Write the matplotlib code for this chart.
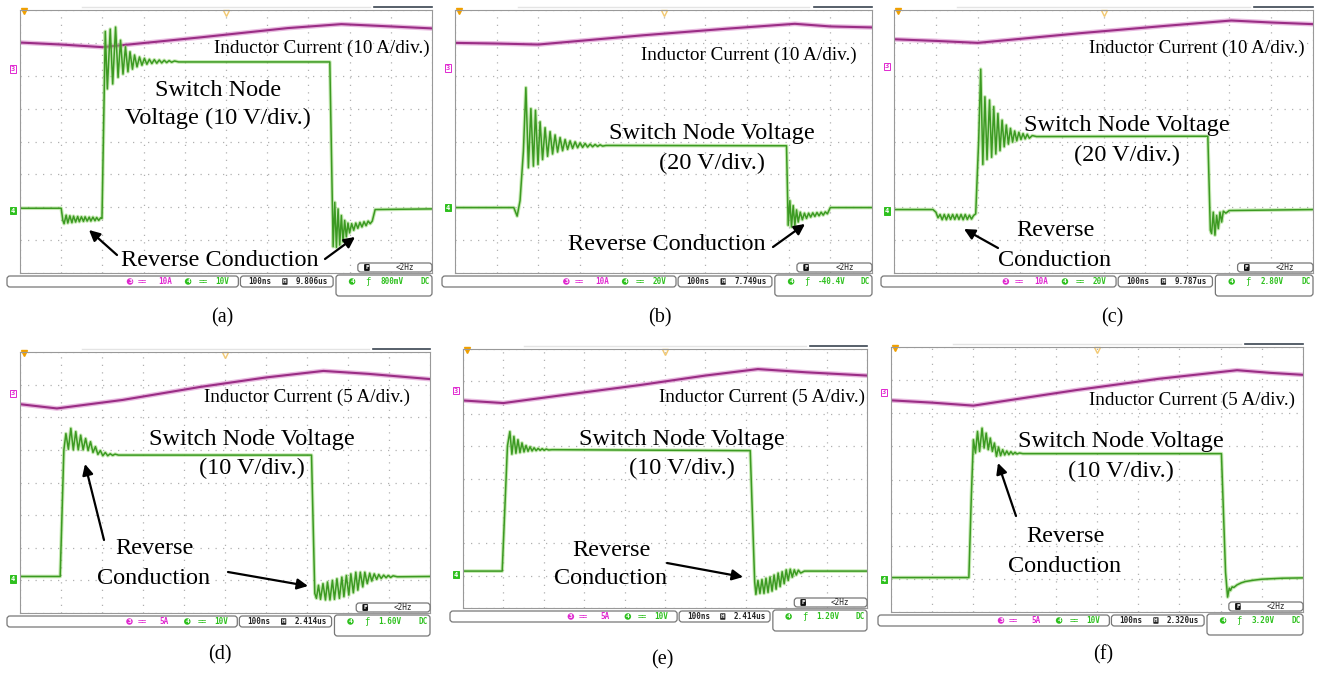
import matplotlib.pyplot as plt
from matplotlib.patches import FancyBboxPatch

# valores lidos das telas do osciloscopio (em divisoes: x 0-10, y 0-8)
# corrente no indutor (canal 3)
a_cur = [(0, 7.01), (1.0, 6.95), (2.0, 6.87), (4.4, 7.17), (6.5, 7.45), (7.8, 7.57), (9.0, 7.50), (10, 7.44)]
b_cur = [(0, 7.00), (1.0, 6.98), (2.0, 6.95), (4.5, 7.23), (6.5, 7.43), (8.15, 7.58), (9.0, 7.50), (10, 7.47)]
c_cur = [(0, 7.11), (1.0, 7.06), (2.0, 7.00), (4.4, 7.29), (6.5, 7.52), (8.05, 7.68), (9.0, 7.62), (10, 7.57)]
d_cur = [(0, 6.40), (0.9, 6.27), (2.5, 6.53), (4.4, 6.93), (6.0, 7.22), (7.4, 7.42), (8.5, 7.33), (10, 7.17)]
e_cur = [(0, 6.41), (1.0, 6.33), (2.5, 6.58), (4.4, 6.89), (6.0, 7.18), (7.3, 7.38), (8.5, 7.28), (10, 7.18)]
f_cur = [(0, 6.39), (1.0, 6.32), (2.0, 6.23), (4.5, 6.70), (6.5, 7.04), (8.4, 7.30), (9.2, 7.22), (10, 7.16)]

# tensao no no de chaveamento (canal 4)
a_sw = [(0, 1.97), (1.00, 1.97), (1.04, 1.60),
        (1.07, 1.50), (1.12, 1.76), (1.16, 1.52), (1.21, 1.74), (1.26, 1.53), (1.30, 1.73),
        (1.35, 1.55), (1.40, 1.72), (1.44, 1.56), (1.49, 1.71), (1.54, 1.57), (1.58, 1.71),
        (1.63, 1.58), (1.68, 1.70), (1.72, 1.58), (1.77, 1.70), (1.82, 1.59), (1.86, 1.69),
        (1.91, 1.60), (1.96, 1.68), (1.99, 1.66),
        (2.07, 7.35), (2.12, 5.60), (2.19, 7.42), (2.25, 5.75), (2.32, 7.48), (2.38, 5.95),
        (2.44, 7.08), (2.50, 6.05), (2.56, 6.88), (2.62, 6.12), (2.67, 6.73), (2.73, 6.20),
        (2.78, 6.63), (2.84, 6.27), (2.90, 6.57), (2.96, 6.32), (3.02, 6.53), (3.08, 6.35),
        (3.14, 6.50), (3.20, 6.37), (3.26, 6.49), (3.32, 6.38), (3.38, 6.48), (3.44, 6.39),
        (3.50, 6.47), (3.56, 6.40), (3.62, 6.46), (3.68, 6.41), (3.75, 6.45), (3.85, 6.42),
        (7.52, 6.42),
        (7.60, 0.80), (7.64, 2.15), (7.68, 0.78), (7.72, 1.95), (7.76, 0.85), (7.80, 1.75),
        (7.84, 0.95), (7.88, 1.60), (7.92, 1.10), (7.96, 1.52), (8.00, 1.22), (8.05, 1.50),
        (8.10, 1.30), (8.15, 1.52), (8.20, 1.36), (8.25, 1.54), (8.30, 1.40), (8.35, 1.56),
        (8.40, 1.44), (8.45, 1.58), (8.50, 1.50), (8.55, 1.58), (8.62, 1.93), (10, 1.95)]
b_sw = [(0, 1.99), (1.41, 1.99), (1.49, 1.73), (1.56, 2.20), (1.64, 3.70), (1.70, 5.64),
        (1.76, 3.20), (1.82, 5.00), (1.88, 3.25), (1.93, 4.95), (1.99, 3.30), (2.04, 4.60),
        (2.10, 3.45), (2.16, 4.42), (2.22, 3.55), (2.28, 4.30), (2.34, 3.62), (2.40, 4.20),
        (2.46, 3.68), (2.52, 4.12), (2.58, 3.72), (2.64, 4.06), (2.70, 3.76), (2.76, 4.02),
        (2.82, 3.79), (2.88, 3.99), (2.94, 3.81), (3.00, 3.96), (3.06, 3.82), (3.12, 3.94),
        (3.18, 3.83), (3.24, 3.92), (3.30, 3.84), (3.36, 3.91), (3.42, 3.85), (3.48, 3.90),
        (3.54, 3.86), (3.62, 3.88), (7.95, 3.87),
        (7.99, 1.45), (8.03, 2.20), (8.07, 1.40), (8.11, 2.05), (8.15, 1.45), (8.19, 1.92),
        (8.23, 1.55), (8.28, 1.85), (8.33, 1.62), (8.38, 1.82), (8.43, 1.66), (8.48, 1.82),
        (8.53, 1.70), (8.58, 1.83), (8.63, 1.72), (8.68, 1.84), (8.73, 1.74), (8.78, 1.85),
        (8.83, 1.76), (8.88, 1.86), (8.93, 1.80), (9.00, 1.99), (10, 1.99)]
c_sw = [(0, 1.93), (0.93, 1.93), (1.00, 1.85), (1.05, 1.68), (1.10, 1.78), (1.15, 1.62),
        (1.20, 1.78), (1.25, 1.62), (1.30, 1.78), (1.35, 1.63), (1.40, 1.78), (1.45, 1.63),
        (1.50, 1.78), (1.55, 1.63), (1.60, 1.78), (1.65, 1.62), (1.70, 1.78), (1.75, 1.63),
        (1.80, 1.76), (1.85, 1.64), (1.90, 1.75), (1.95, 1.80), (2.02, 4.00), (2.07, 6.20),
        (2.12, 3.30), (2.17, 5.36), (2.22, 3.45), (2.28, 5.26), (2.33, 3.52), (2.38, 5.06),
        (2.43, 3.62), (2.48, 4.85), (2.53, 3.72), (2.58, 4.65), (2.63, 3.84), (2.68, 4.50),
        (2.73, 3.92), (2.78, 4.40), (2.83, 3.98), (2.88, 4.32), (2.93, 4.02), (2.98, 4.28),
        (3.03, 4.06), (3.08, 4.24), (3.13, 4.08), (3.18, 4.22), (3.23, 4.10), (3.30, 4.18),
        (3.40, 4.15), (7.49, 4.16),
        (7.55, 1.30), (7.58, 1.20), (7.62, 1.85), (7.66, 1.15), (7.70, 1.75), (7.74, 1.35),
        (7.78, 1.85), (7.82, 1.55), (7.86, 1.88), (7.92, 1.82), (8.00, 1.90), (10, 1.93)]
d_sw = [(0, 1.12), (0.98, 1.12), (1.07, 5.00), (1.12, 5.50), (1.18, 5.02), (1.24, 5.66),
        (1.30, 5.00), (1.36, 5.56), (1.42, 5.00), (1.48, 5.45), (1.54, 5.00), (1.60, 5.35),
        (1.66, 4.98), (1.72, 5.25), (1.78, 4.92), (1.84, 5.10), (1.90, 4.86), (1.96, 4.98),
        (2.02, 4.82), (2.08, 4.92), (2.14, 4.82), (2.20, 4.88), (2.26, 4.83), (2.32, 4.87),
        (2.40, 4.84), (7.11, 4.84),
        (7.19, 0.60), (7.23, 0.45), (7.28, 0.85), (7.33, 0.42), (7.39, 0.90), (7.45, 0.40),
        (7.50, 0.95), (7.56, 0.40), (7.62, 1.00), (7.67, 0.42), (7.73, 1.05), (7.79, 0.45),
        (7.85, 1.10), (7.90, 0.50), (7.96, 1.15), (8.02, 0.55), (8.07, 1.20), (8.13, 0.62),
        (8.19, 1.25), (8.24, 0.70), (8.30, 1.25), (8.36, 0.80), (8.41, 1.25), (8.47, 0.90),
        (8.53, 1.22), (8.58, 0.98), (8.64, 1.20), (8.70, 1.03), (8.75, 1.18), (8.81, 1.06),
        (8.87, 1.16), (8.93, 1.08), (8.98, 1.15), (9.04, 1.09), (9.10, 1.14), (9.20, 1.11), (10, 1.12)]
e_sw = [(0, 1.14), (0.97, 1.14), (1.05, 3.50), (1.10, 5.00), (1.16, 5.45), (1.21, 4.75),
        (1.26, 5.30), (1.31, 4.78), (1.36, 5.20), (1.41, 4.80), (1.46, 5.10), (1.51, 4.82),
        (1.56, 5.02), (1.61, 4.84), (1.66, 4.98), (1.71, 4.85), (1.76, 4.95), (1.81, 4.86),
        (1.86, 4.93), (1.91, 4.87), (1.96, 4.92), (2.01, 4.87), (2.06, 4.91), (2.12, 4.88),
        (2.20, 4.89), (7.11, 4.86),
        (7.22, 0.80), (7.25, 0.42), (7.30, 0.85), (7.35, 0.45), (7.40, 0.88), (7.45, 0.45),
        (7.50, 0.92), (7.55, 0.48), (7.60, 0.96), (7.65, 0.52), (7.70, 1.02), (7.75, 0.58),
        (7.80, 1.08), (7.85, 0.66), (7.90, 1.12), (7.95, 0.75), (8.00, 1.18), (8.05, 0.85),
        (8.10, 1.20), (8.15, 0.95), (8.20, 1.18), (8.25, 1.02), (8.30, 1.17), (8.36, 1.08),
        (8.45, 1.14), (10, 1.14)]
f_sw = [(0, 1.04), (1.89, 1.04), (1.95, 3.50), (2.00, 5.20), (2.05, 4.80), (2.10, 5.45),
        (2.15, 4.85), (2.21, 5.55), (2.26, 4.95), (2.31, 5.40), (2.36, 4.90), (2.41, 5.25),
        (2.46, 4.85), (2.51, 5.10), (2.56, 4.70), (2.61, 4.98), (2.66, 4.72), (2.71, 4.90),
        (2.76, 4.74), (2.81, 4.86), (2.86, 4.75), (2.91, 4.84), (2.96, 4.76), (3.01, 4.82),
        (3.06, 4.77), (3.12, 4.80), (3.20, 4.78), (8.02, 4.78),
        (8.12, 1.20), (8.17, 0.45), (8.21, 0.72), (8.24, 0.65), (8.28, 0.76), (8.32, 0.74),
        (8.40, 0.82), (8.50, 0.88), (8.60, 0.92), (8.80, 0.96), (9.00, 0.99), (9.50, 1.02), (10, 1.03)]

# nivel dos marcadores de canal na borda esquerda
marc_ch3 = [6.20, 6.24, 6.29, 6.73, 6.71, 6.63]
marc_ch4 = [1.90, 1.99, 1.89, 1.04, 1.03, 0.98]

# barra de status de cada tela
escala_a = ['10A', '10A', '10A', '5A', '5A', '5A']
escala_v = ['10V', '20V', '20V', '10V', '10V', '10V']
atraso = ['9.806us', '7.749us', '9.787us', '2.414us', '2.414us', '2.320us']
gatilho = ['800mV', '-40.4V', '2.80V', '1.60V', '1.20V', '3.20V']
letras = ['(a)', '(b)', '(c)', '(d)', '(e)', '(f)']

# posicao das telas na figura (px): esquerda, topo, direita, base
telas = [(20, 10, 432, 273), (455, 10, 872, 273), (894, 10, 1313, 273),
         (20, 352, 430, 613), (463, 349, 867, 608), (891, 347, 1303, 612)]
pos_letra = [(222, 318), (660, 318), (1112, 318), (220, 655), (662, 660), (1103, 655)]

# textos (x, y, texto, tamanho, alinhamento) e setas (cauda -> ponta), em px
textos = [
    [(430, 48, 'Inductor Current (10 A/div.)', 'p', 'right'),
     (218, 90, 'Switch Node', 'g', 'center'), (218, 118, 'Voltage (10 V/div.)', 'g', 'center'),
     (220, 261, 'Reverse Conduction', 'g', 'center')],
    [(857, 55, 'Inductor Current (10 A/div.)', 'p', 'right'),
     (712, 133, 'Switch Node Voltage', 'g', 'center'), (712, 163, '(20 V/div.)', 'g', 'center'),
     (667, 245, 'Reverse Conduction', 'g', 'center')],
    [(1305, 48, 'Inductor Current (10 A/div.)', 'p', 'right'),
     (1127, 126, 'Switch Node Voltage', 'g', 'center'), (1127, 155, '(20 V/div.)', 'g', 'center'),
     (1055, 230, 'Reverse', 'g', 'center'), (1055, 260, 'Conduction', 'g', 'center')],
    [(410, 397, 'Inductor Current (5 A/div.)', 'p', 'right'),
     (252, 439, 'Switch Node Voltage', 'g', 'center'), (252, 468, '(10 V/div.)', 'g', 'center'),
     (154, 549, 'Reverse', 'g', 'center'), (154, 578, 'Conduction', 'g', 'center')],
    [(865, 397, 'Inductor Current (5 A/div.)', 'p', 'right'),
     (682, 439, 'Switch Node Voltage', 'g', 'center'), (682, 468, '(10 V/div.)', 'g', 'center'),
     (611, 550, 'Reverse', 'g', 'center'), (611, 579, 'Conduction', 'g', 'center')],
    [(1295, 400, 'Inductor Current (5 A/div.)', 'p', 'right'),
     (1121, 441, 'Switch Node Voltage', 'g', 'center'), (1121, 471, '(10 V/div.)', 'g', 'center'),
     (1065, 537, 'Reverse', 'g', 'center'), (1065, 567, 'Conduction', 'g', 'center')],
]
setas = [
    [((117, 255), (89, 230)), ((325, 259), (355, 237))],
    [((773, 247), (805, 224))],
    [((998, 248), (964, 229))],
    [((104, 540), (85, 464)), ((228, 572), (308, 586))],
    [((667, 563), (743, 577))],
    [((1016, 516), (998, 463))],
]

correntes = [a_cur, b_cur, c_cur, d_cur, e_cur, f_cur]
tensoes = [a_sw, b_sw, c_sw, d_sw, e_sw, f_sw]

serif = 'Liberation Serif'
mono = 'DejaVu Sans Mono'
tam = {'p': 13.8, 'g': 17.5}
cor_mag = '#e028d0'
cor_verde = '#2ec01e'

fig = plt.figure(figsize=(13.18, 6.73), dpi=100)
fig.patch.set_facecolor('white')

# eixo de sobreposicao em pixels para textos, setas e barras de status
ov = fig.add_axes([0, 0, 1, 1], zorder=10)
ov.set_xlim(0, 1318)
ov.set_ylim(673, 0)
ov.axis('off')
ov.patch.set_alpha(0)


def caixa(x, y, w, h, ec='#777777', fc='white'):
    ov.add_patch(FancyBboxPatch((x, y), w, h, boxstyle='round,pad=0,rounding_size=3',
                                fc=fc, ec=ec, lw=0.9))


for i in range(6):
    L, T, R, B = telas[i]
    W = R - L
    ax = fig.add_axes([L / 1318, 1 - B / 673, W / 1318, (B - T) / 673])
    ax.set_xlim(0, 10)
    ax.set_ylim(0, 8)
    ax.set_xticks(range(11))
    ax.set_yticks(range(9))
    ax.tick_params(length=0, labelbottom=False, labelleft=False)
    ax.grid(True, color='#b0b0b0', lw=0.9, linestyle=(0, (1, 5)))
    for s in ax.spines.values():
        s.set_color('#999999')
        s.set_linewidth(0.8)

    t, v = zip(*correntes[i])
    ax.plot(t, v, color='#d98ccb', lw=3.4, alpha=0.6)
    ax.plot(t, v, color='#9a2d85', lw=1.5)
    t, v = zip(*tensoes[i])
    ax.plot(t, v, color='#8fd46a', lw=2.6, alpha=0.5)
    ax.plot(t, v, color='#3c9a22', lw=1.1)

    # marcadores de canal
    ax.text(-0.012, marc_ch3[i], '3', transform=ax.get_yaxis_transform(), ha='right', va='center',
            fontsize=5, color=cor_mag, family=mono, fontweight='bold',
            bbox=dict(boxstyle='square,pad=0.1', fc='white', ec=cor_mag, lw=0.7))
    ax.text(-0.012, marc_ch4[i], '4', transform=ax.get_yaxis_transform(), ha='right', va='center',
            fontsize=5, color='white', family=mono, fontweight='bold',
            bbox=dict(boxstyle='square,pad=0.1', fc=cor_verde, ec=cor_verde, lw=0.7))
    ax.plot([0.01], [0.995], marker='v', ms=4, color='#f0a000', transform=ax.transAxes, clip_on=False)
    ax.plot([0.5], [0.99], marker='v', ms=5, mfc='none', mec='#f2c870', transform=ax.transAxes,
            clip_on=False)

    # barra superior
    ov.plot([L + 0.86 * W, R], [T - 3, T - 3], color='#3a4450', lw=1.2)
    ov.plot([L + 0.15 * W, L + 0.85 * W], [T - 3, T - 3], color='#e4e4e4', lw=1.0)

    # barra de status
    yb = B + 8.5
    caixa(L - 13, B + 3, 0.53 * W + 13, 11)
    caixa(L + 0.535 * W, B + 3, 0.225 * W, 11)
    caixa(L + 0.767 * W, B + 2, 0.233 * W, 21)
    caixa(L + 0.82 * W, B - 10, 0.18 * W, 9)
    ov.text(L + 0.267 * W, yb, '3', fontsize=4.5, color='white', ha='center', va='center',
            family=mono, fontweight='bold', bbox=dict(boxstyle='circle,pad=0.12', fc=cor_mag, ec='none'))
    ov.text(L + 0.298 * W, yb, '==', fontsize=5.5, color=cor_mag, ha='center', va='center', family=mono)
    ov.text(L + 0.352 * W, yb, escala_a[i], fontsize=5.5, color=cor_mag, ha='center', va='center',
            family=mono, fontweight='bold')
    ov.text(L + 0.408 * W, yb, '4', fontsize=4.5, color='white', ha='center', va='center',
            family=mono, fontweight='bold', bbox=dict(boxstyle='circle,pad=0.12', fc=cor_verde, ec='none'))
    ov.text(L + 0.444 * W, yb, '==', fontsize=5.5, color=cor_verde, ha='center', va='center', family=mono)
    ov.text(L + 0.49 * W, yb, escala_v[i], fontsize=5.5, color=cor_verde, ha='center', va='center',
            family=mono, fontweight='bold')
    ov.text(L + 0.583 * W, yb, '100ns', fontsize=5.5, color='#222222', ha='center', va='center',
            family=mono, fontweight='bold')
    ov.text(L + 0.643 * W, yb, 'H', fontsize=4.5, color='white', ha='center', va='center',
            family=mono, fontweight='bold', bbox=dict(boxstyle='round,pad=0.12', fc='#222222', ec='none'))
    ov.text(L + 0.709 * W, yb, atraso[i], fontsize=5.5, color='#222222', ha='center', va='center',
            family=mono, fontweight='bold')
    ov.text(L + 0.806 * W, yb, '4', fontsize=4.5, color='white', ha='center', va='center',
            family=mono, fontweight='bold', bbox=dict(boxstyle='circle,pad=0.12', fc=cor_verde, ec='none'))
    ov.text(L + 0.845 * W, yb, 'ƒ', fontsize=6.5, color=cor_verde, ha='center', va='center', family=mono)
    ov.text(L + 0.903 * W, yb, gatilho[i], fontsize=5.5, color=cor_verde, ha='center', va='center',
            family=mono, fontweight='bold')
    ov.text(R - 2, yb, 'DC', fontsize=5.5, color=cor_verde, ha='right', va='center',
            family=mono, fontweight='bold')
    ov.text(L + 0.842 * W, B - 5.5, 'F', fontsize=4.5, color='white', ha='center', va='center',
            family=mono, fontweight='bold', bbox=dict(boxstyle='round,pad=0.15', fc='#111111', ec='none'))
    ov.text(L + 0.934 * W, B - 5.5, '<2Hz', fontsize=5.5, color='#222222', ha='center', va='center',
            family=mono)

    # anotacoes
    for x, y, s, k, ha in textos[i]:
        ov.text(x, y, s, fontsize=tam[k], family=serif, ha=ha, va='center', color='black')
    for (x0, y0), (x1, y1) in setas[i]:
        ov.annotate('', xy=(x1, y1), xytext=(x0, y0),
                    arrowprops=dict(arrowstyle='-|>', color='black', lw=1.6,
                                    mutation_scale=16, shrinkA=0, shrinkB=0))

    lx, ly = pos_letra[i]
    ov.text(lx, ly, letras[i], fontsize=14.5, family=serif, ha='center', va='center')

fig.savefig('out.png', dpi=100)
